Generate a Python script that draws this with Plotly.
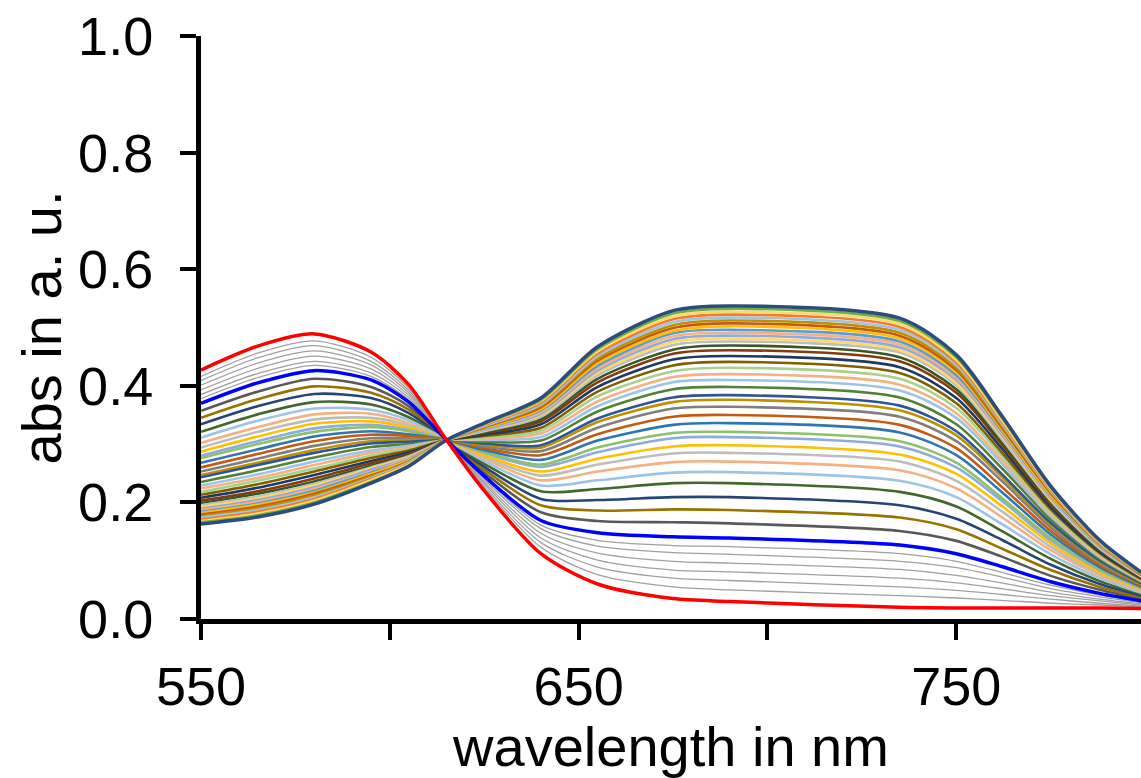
import plotly.graph_objects as go

wavelength_nm = [550, 565, 580, 595, 605, 615, 625, 640, 655, 675, 690, 735, 750, 762, 775, 788, 799]

# absorbance spectra, bottom (start, red) to top (end, dark blue) at 690 nm
t00 = [.427, .468, .489, .458, .402, .307, .220, .112, .060, .035, .030, .020, .019, .019, .019, .019, .018]
t01 = [.416, .456, .477, .449, .396, .307, .225, .123, .076, .055, .050, .040, .036, .032, .027, .024, .021]
t02 = [.409, .448, .469, .442, .392, .307, .228, .131, .089, .070, .066, .055, .049, .042, .034, .027, .022]
t03 = [.401, .439, .460, .436, .388, .307, .232, .139, .101, .084, .081, .070, .062, .052, .040, .031, .024]
t04 = [.393, .430, .451, .429, .384, .307, .235, .147, .113, .099, .096, .085, .075, .062, .046, .034, .026]
t05 = [.385, .421, .442, .422, .380, .307, .239, .155, .125, .114, .111, .099, .088, .072, .052, .038, .028]
t06 = [.378, .414, .435, .416, .376, .307, .242, .161, .135, .126, .124, .112, .099, .080, .058, .041, .030]
t07 = [.370, .405, .426, .410, .372, .307, .245, .169, .148, .141, .139, .127, .112, .090, .064, .044, .031]
t08 = [.357, .390, .412, .398, .365, .307, .251, .183, .168, .166, .164, .151, .134, .107, .074, .050, .034]
t09 = [.345, .377, .399, .388, .359, .307, .256, .195, .186, .188, .187, .174, .154, .121, .084, .055, .037]
t10 = [.334, .365, .386, .379, .353, .307, .261, .206, .204, .209, .209, .195, .172, .136, .093, .060, .040]
t11 = [.321, .351, .372, .368, .346, .307, .266, .219, .223, .233, .233, .218, .193, .151, .103, .065, .043]
t12 = [.311, .340, .361, .359, .341, .307, .271, .229, .238, .251, .252, .237, .209, .163, .111, .070, .045]
t13 = [.302, .329, .351, .352, .336, .307, .275, .238, .253, .269, .270, .255, .224, .175, .118, .074, .047]
t14 = [.294, .321, .342, .345, .332, .307, .278, .246, .265, .284, .285, .270, .237, .185, .124, .077, .049]
t15 = [.287, .313, .335, .339, .328, .307, .281, .253, .275, .296, .298, .282, .249, .194, .130, .080, .051]
t16 = [.280, .305, .327, .333, .324, .307, .285, .261, .286, .310, .312, .296, .260, .203, .135, .084, .053]
t17 = [.276, .300, .321, .329, .322, .307, .287, .265, .294, .319, .321, .305, .268, .208, .139, .086, .054]
t18 = [.268, .291, .313, .322, .317, .307, .290, .273, .306, .333, .336, .320, .281, .218, .145, .089, .055]
t19 = [.260, .283, .305, .316, .314, .307, .293, .281, .317, .347, .350, .333, .293, .227, .151, .092, .057]
t20 = [.253, .275, .297, .310, .310, .307, .296, .288, .328, .361, .364, .347, .305, .237, .157, .095, .059]
t21 = [.247, .268, .290, .305, .307, .307, .299, .294, .338, .372, .376, .358, .315, .244, .162, .098, .060]
t22 = [.243, .264, .285, .301, .304, .307, .301, .298, .344, .380, .384, .366, .322, .249, .165, .100, .061]
t23 = [.235, .255, .277, .295, .300, .307, .304, .306, .356, .394, .398, .380, .334, .259, .171, .103, .063]
t24 = [.229, .248, .270, .289, .297, .307, .307, .312, .365, .406, .410, .392, .345, .267, .176, .106, .065]
t25 = [.224, .242, .264, .285, .294, .307, .309, .318, .373, .415, .420, .402, .353, .273, .180, .108, .066]
t26 = [.218, .237, .258, .280, .291, .307, .312, .323, .382, .425, .431, .412, .362, .280, .184, .111, .067]
t27 = [.213, .231, .253, .276, .289, .307, .314, .328, .390, .435, .441, .422, .370, .286, .188, .113, .068]
t28 = [.208, .225, .247, .271, .286, .307, .316, .334, .398, .445, .451, .432, .379, .293, .192, .115, .070]
t29 = [.203, .219, .241, .267, .283, .307, .319, .339, .406, .455, .461, .442, .388, .300, .197, .118, .071]
t30 = [.199, .215, .236, .263, .281, .307, .320, .343, .412, .462, .469, .449, .394, .304, .200, .119, .072]
t31 = [.195, .210, .232, .260, .279, .307, .322, .347, .418, .470, .476, .457, .401, .309, .203, .121, .073]
t32 = [.192, .207, .229, .258, .277, .307, .323, .350, .422, .475, .481, .461, .405, .313, .205, .122, .073]
t33 = [.189, .204, .226, .256, .276, .307, .324, .352, .426, .480, .486, .466, .410, .316, .207, .123, .074]
t34 = [.187, .201, .223, .253, .275, .307, .326, .355, .430, .485, .491, .471, .414, .319, .209, .125, .074]
t35 = [.184, .198, .220, .251, .273, .307, .327, .358, .434, .490, .496, .476, .418, .323, .211, .126, .075]
t36 = [.182, .196, .217, .249, .272, .307, .328, .360, .439, .494, .502, .481, .423, .326, .213, .127, .076]
t37 = [.179, .193, .215, .246, .270, .307, .329, .363, .443, .499, .507, .486, .427, .329, .216, .128, .076]
t38 = [.176, .190, .212, .244, .269, .307, .330, .366, .447, .504, .512, .491, .431, .333, .218, .129, .077]
t39 = [.174, .187, .209, .242, .268, .307, .331, .368, .451, .509, .517, .496, .436, .336, .220, .130, .078]
t40 = [.171, .184, .206, .240, .266, .307, .333, .371, .455, .514, .522, .501, .440, .339, .222, .132, .078]
t41 = [.168, .181, .203, .238, .265, .307, .334, .374, .459, .519, .527, .506, .444, .342, .224, .133, .079]
t42 = [.166, .178, .200, .235, .263, .307, .335, .376, .463, .524, .532, .511, .449, .346, .226, .134, .079]
t43 = [.163, .175, .197, .233, .262, .307, .336, .379, .467, .529, .537, .516, .453, .349, .228, .135, .080]

spectra = [t00, t01, t02, t03, t04, t05, t06, t07, t08, t09, t10, t11, t12, t13, t14, t15,
           t16, t17, t18, t19, t20, t21, t22, t23, t24, t25, t26, t27, t28, t29, t30, t31,
           t32, t33, t34, t35, t36, t37, t38, t39, t40, t41, t42, t43]

x_tick_values = [550, 600, 650, 700, 750]
x_tick_labels = ["550", "", "650", "", "750"]
y_tick_values = [0.0, 0.2, 0.4, 0.6, 0.8, 1.0]
y_tick_labels = ["0.0", "0.2", "0.4", "0.6", "0.8", "1.0"]

# styles
GRAY = "#A0A0A0"
colors = ["#FF0000", GRAY, GRAY, GRAY, GRAY, GRAY, GRAY, "#0000FF",
          "#595959", "#997300", "#264478", "#43682B", "#9DC3E6", "#F4B183", "#BDBDBD", "#FFC000",
          "#8FAADC", "#8CC168", "#2E75B6", "#C55A11", "#7F7F7F", "#BF9000", "#2F5597", "#548235",
          "#9DC3E6", "#F4B183", "#A9D18E", "#7F6000", "#1F3864", "#843C0C", "#385723", "#BDBDBD",
          "#FFD966", "#8FAADC", "#F4B183", "#5B9BD5", "#FFC000", "#C55A11", "#BF9000", "#9DC3E6",
          "#ED7D31", "#FFD966", "#70AD47", "#2B4C7E"]
widths = []
for i in range(len(spectra)):
    if i in (0, 7):
        widths.append(3.5)
    elif 1 <= i <= 6:
        widths.append(1.3)
    elif i == len(spectra) - 1:
        widths.append(3.5)
    else:
        widths.append(2.6)

fig = go.Figure()
order = [i for i in range(len(spectra)) if i not in (0, 7)] + [7, 0]
for i in order:
    fig.add_trace(go.Scatter(
        x=wavelength_nm, y=spectra[i], mode="lines",
        line=dict(color=colors[i], width=widths[i], shape="spline", smoothing=0.8),
        showlegend=False, hoverinfo="skip"))

FONT = "Liberation Sans, Arial, sans-serif"
fig.update_layout(
    width=1141, height=778,
    margin=dict(l=201, r=0, t=36, b=159),
    paper_bgcolor="white", plot_bgcolor="white",
    font=dict(family=FONT, color="black"),
    xaxis=dict(
        range=[550, 798.9], tickvals=x_tick_values, ticktext=x_tick_labels,
        showline=True, linecolor="black", linewidth=5, mirror=False,
        ticks="outside", ticklen=16, tickwidth=4, tickcolor="black",
        showgrid=False, zeroline=False, tickfont=dict(size=54, family=FONT),
        title=dict(text="wavelength in nm", font=dict(size=56, family=FONT), standoff=8),
    ),
    yaxis=dict(
        range=[0, 1.0], tickvals=y_tick_values, ticktext=y_tick_labels,
        showline=True, linecolor="black", linewidth=5, mirror=False,
        ticks="outside", ticklen=16, tickwidth=4, tickcolor="black",
        ticklabelstandoff=16,
        showgrid=False, zeroline=False, tickfont=dict(size=54, family=FONT),
        title=dict(text="abs in a. u.", font=dict(size=56, family=FONT), standoff=0),
    ),
)

fig.write_html("out.html")
